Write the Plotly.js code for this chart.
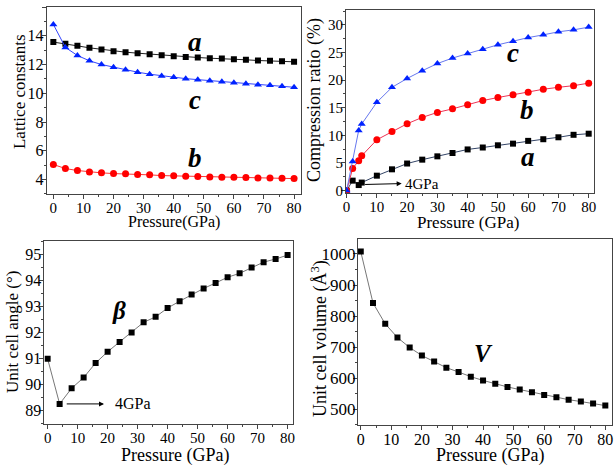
<!DOCTYPE html>
<html>
<head>
<meta charset="utf-8">
<script src="https://cdn.plot.ly/plotly-3.0.1.min.js"></script>
<style>html,body{margin:0;padding:0;background:#fff;}#chart{width:614px;height:467px;}</style>
</head>
<body>
<div id="chart"></div>
<script>
// Panel 1: lattice constants
const p1Pressure = [0,4,8,12,16,20,24,28,32,36,40,44,48,52,56,60,64,68,72,76,80];
const latticeA = [13.56,13.45,13.3,13.16,13.05,12.93,12.86,12.79,12.72,12.65,12.58,12.53,12.49,12.44,12.42,12.37,12.33,12.28,12.26,12.23,12.19];
const latticeC = [14.79,13.19,12.63,12.26,12.0,11.81,11.63,11.47,11.33,11.21,11.12,11.02,10.95,10.88,10.81,10.74,10.67,10.6,10.56,10.49,10.42];
const latticeB = [5.05,4.77,4.63,4.53,4.47,4.42,4.4,4.35,4.33,4.28,4.26,4.23,4.21,4.19,4.16,4.16,4.14,4.12,4.12,4.09,4.07];

// Panel 2: compression ratio
const p2Pressure = [0,2,4,5,10,15,20,25,30,35,40,45,50,55,60,65,70,75,80];
const compA = [0,1.8,1.0,1.45,2.7,3.85,4.9,5.6,6.2,6.8,7.45,7.8,8.2,8.5,9.0,9.3,9.65,10.1,10.3];
const compB = [0,4.0,5.4,6.3,9.2,10.7,12.1,13.25,14.15,14.8,15.55,16.3,16.85,17.35,17.8,18.35,18.7,19.0,19.45];
const compC = [0,5.25,10.9,12.05,16.0,18.7,20.3,21.7,23.0,24.0,24.8,25.6,26.4,27.05,27.7,28.2,28.75,29.1,29.6];

// Panel 3: unit cell angle beta
const p3Pressure = [0,4,8,12,16,20,24,28,32,36,40,44,48,52,56,60,64,68,72,76,80];
const angleBeta = [90.98,89.25,89.85,90.26,90.82,91.25,91.63,91.99,92.38,92.59,92.93,93.19,93.45,93.68,93.89,94.11,94.26,94.48,94.69,94.81,94.96];

// Panel 4: unit cell volume
const p4Pressure = [0,4,8,12,16,20,24,28,32,36,40,44,48,52,56,60,64,68,72,76,80];
const volumeV = [1007.5,842,775,731,698.8,673,653.5,634,620,605,593,582,572,563.5,555,546,539,531,525,518.5,512];

const serif = 'Liberation Serif';

function ax(domain, range, dtick, minorDtick, fontSize, anchor, standoff) {
  return {
    domain: domain, range: range, dtick: dtick, tick0: 0,
    showgrid: false, zeroline: false,
    showline: true, linecolor: '#444', linewidth: 1, mirror: true,
    ticks: 'outside', ticklen: 4, tickwidth: 1, tickcolor: '#444',
    minor: {dtick: minorDtick, ticks: 'outside', ticklen: 2, tickwidth: 1, tickcolor: '#444', showgrid: false},
    tickfont: {family: serif, size: fontSize, color: '#000'},
    ticklabelstandoff: standoff,
    anchor: anchor, automargin: false
  };
}

const traces = [
  {x: p1Pressure, y: latticeA, xaxis: 'x', yaxis: 'y', mode: 'lines+markers', line: {color: '#222', width: 1}, marker: {symbol: 'square', size: 6, color: '#000'}},
  {x: p1Pressure, y: latticeC, xaxis: 'x', yaxis: 'y', mode: 'lines+markers', line: {color: '#3344ff', width: 1}, marker: {symbol: 'triangle-up', size: 7, color: '#0022ff'}},
  {x: p1Pressure, y: latticeB, xaxis: 'x', yaxis: 'y', mode: 'lines+markers', line: {color: '#ff3333', width: 1}, marker: {symbol: 'circle', size: 7, color: '#ff0000'}},
  {x: p2Pressure, y: compA, xaxis: 'x2', yaxis: 'y2', mode: 'lines+markers', line: {color: '#334466', width: 1}, marker: {symbol: 'square', size: 6, color: '#000'}},
  {x: p2Pressure, y: compB, xaxis: 'x2', yaxis: 'y2', mode: 'lines+markers', line: {color: '#ee3355', width: 1}, marker: {symbol: 'circle', size: 7, color: '#ff0000'}},
  {x: p2Pressure, y: compC, xaxis: 'x2', yaxis: 'y2', mode: 'lines+markers', line: {color: '#6677ee', width: 1}, marker: {symbol: 'triangle-up', size: 7, color: '#0022ff'}},
  {x: p3Pressure, y: angleBeta, xaxis: 'x3', yaxis: 'y3', mode: 'lines+markers', line: {color: '#777', width: 1}, marker: {symbol: 'square', size: 6, color: '#000'}},
  {x: p4Pressure, y: volumeV, xaxis: 'x4', yaxis: 'y4', mode: 'lines+markers', line: {color: '#777', width: 1}, marker: {symbol: 'square', size: 6, color: '#000'}}
];

function lab(text, xref, yref, x, y, size) {
  return {text: '<b><i>' + text + '</i></b>', xref: xref, yref: yref, x: x, y: y, showarrow: false,
          font: {family: serif, size: size || 27, color: '#000'}, xanchor: 'center', yanchor: 'middle'};
}
function title(text, x, y, size, angle) {
  return {text: text, xref: 'paper', yref: 'paper', x: x, y: y, showarrow: false, textangle: angle || 0,
          font: {family: serif, size: size, color: '#000'}, xanchor: 'center', yanchor: 'middle'};
}

const annotations = [
  lab('a', 'x', 'y', 47, 13.56),
  lab('c', 'x', 'y', 47, 9.52),
  lab('b', 'x', 'y', 47, 5.49),
  lab('c', 'x2', 'y2', 55, 24.9),
  lab('b', 'x2', 'y2', 59.6, 14.6),
  lab('a', 'x2', 'y2', 59.9, 6.0),
  lab('β', 'x3', 'y3', 23.8, 92.85, 25),
  lab('V', 'x4', 'y4', 40, 681, 25),
  title('Pressure(GPa)', 0.2834, 0.524, 16),
  title('Lattice constants', 0.0326, 0.803, 17, -90),
  title('Pressure (GPa)', 0.7622, 0.524, 17),
  title('Compression ratio (%)', 0.513, 0.786, 18, -90),
  title('Pressure (GPa)', 0.285, 0.0236, 18),
  title('Unit cell angle (°)', 0.0195, 0.289, 17, -90),
  title('Pressure (GPa)', 0.798, 0.0236, 18),
  title('Unit cell volume (Å<sup>3</sup>)', 0.521, 0.276, 18, -90),
  {text: ' ', xref: 'x2', yref: 'y2', x: 18.2, y: 1.27, axref: 'x2', ayref: 'y2', ax: 4.96, ay: 1.09,
   showarrow: true, arrowhead: 2, arrowsize: 1, arrowwidth: 1, arrowcolor: '#000', standoff: 0, startstandoff: 0},
  {text: '4GPa', xref: 'x2', yref: 'y2', x: 18.6, y: 1.27, showarrow: false, xanchor: 'left', yanchor: 'middle',
   font: {family: serif, size: 15, color: '#000'}},
  {text: ' ', xref: 'x3', yref: 'y3', x: 18.8, y: 89.25, axref: 'x3', ayref: 'y3', ax: 5.2, ay: 89.25,
   showarrow: true, arrowhead: 2, arrowsize: 1, arrowwidth: 1, arrowcolor: '#000', standoff: 0, startstandoff: 0},
  {text: '4GPa', xref: 'x3', yref: 'y3', x: 21.7, y: 89.25, showarrow: false, xanchor: 'left', yanchor: 'middle',
   font: {family: serif, size: 16, color: '#000'}}
];

const layout = {
  width: 614, height: 467,
  margin: {l: 0, r: 0, t: 0, b: 0},
  paper_bgcolor: '#fff', plot_bgcolor: '#fff',
  showlegend: false,
  font: {family: serif, size: 15, color: '#000'},
  xaxis: ax([0.0761, 0.4902], [-2.2, 82.3], 10, 5, 15, 'y', -4),
  yaxis: ax([0.5846, 0.985], [3, 16], 2, 1, 16, 'x', -5),
  xaxis2: ax([0.5635, 0.9674], [-0.2, 81.75], 10, 5, 15, 'y2', -4),
  yaxis2: ax([0.5867, 0.9786], [-0.44, 32.7], 5, 2.5, 15, 'x2', -5),
  xaxis3: ax([0.0722, 0.4777], [-1.1, 81.9], 10, 5, 15, 'y3', -4),
  yaxis3: ax([0.0921, 0.4839], [88.48, 95.5], 1, 0.5, 16, 'x3', -5),
  xaxis4: ax([0.5831, 0.9963], [-0.9, 82.1], 10, 5, 16, 'y4', -4),
  yaxis4: ax([0.0899, 0.4882], [449.5, 1048], 100, 50, 17, 'x4', -6),
  annotations: annotations
};

Plotly.newPlot('chart', traces, layout, {displayModeBar: false, staticPlot: true});
</script>
</body>
</html>
